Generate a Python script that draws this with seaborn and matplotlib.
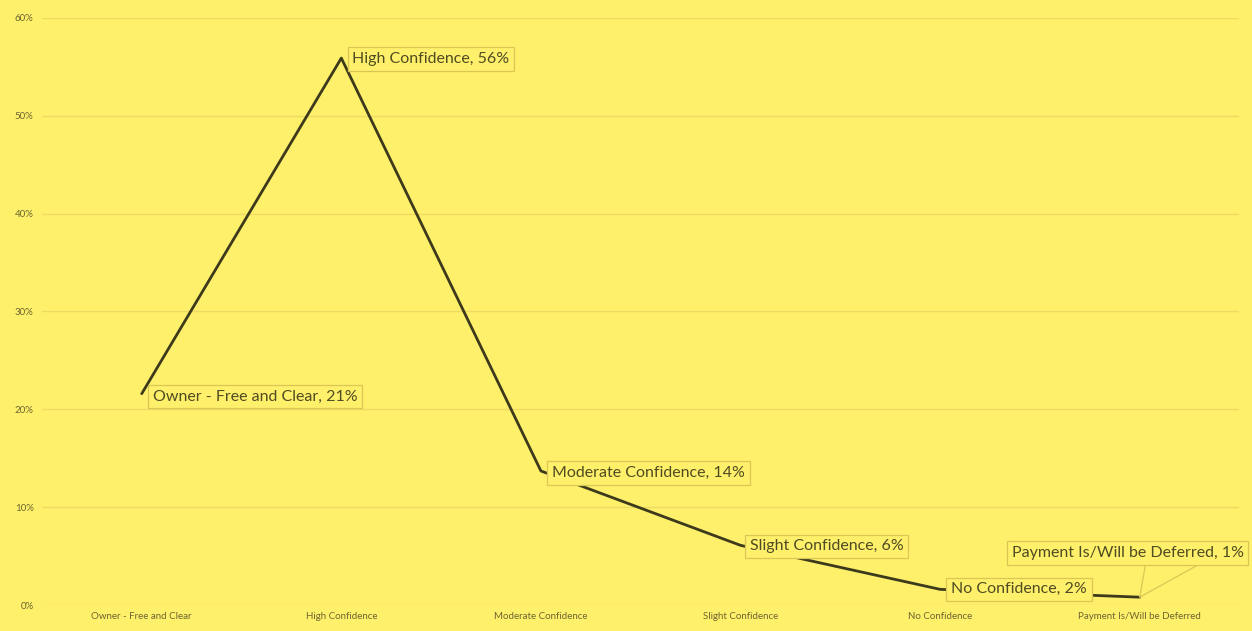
import matplotlib
matplotlib.use("Agg")
import matplotlib.pyplot as plt
import seaborn as sns
import pandas as pd

categories = ["Owner - Free and Clear", "High Confidence", "Moderate Confidence",
              "Slight Confidence", "No Confidence", "Payment Is/Will be Deferred"]
values = [21.6, 55.9, 13.7, 6.1, 1.6, 0.8]
pct_labels = ["21%", "56%", "14%", "6%", "2%", "1%"]
yticks = [0, 10, 20, 30, 40, 50, 60]

bg = "#fff06b"
line_col = "#3d3a1c"
text_col = "#4f4b22"

sns.set_theme(style="white")
plt.rcParams["font.family"] = ["Lato", "DejaVu Sans"]

df = pd.DataFrame({"cat": categories, "val": values})

fig = plt.figure(figsize=(12.52, 6.31), dpi=100, facecolor=bg)
ax = fig.add_axes([0.0335, 0.0412, 0.9565, 0.9303])
ax.set_facecolor(bg)

sns.lineplot(data=df, x="cat", y="val", sort=False, color=line_col, linewidth=2.0, ax=ax)

ax.set_xlim(-0.5, 5.5)
ax.set_ylim(0, 60)
ax.set_yticks(yticks)
ax.set_yticklabels([f"{t}%" for t in yticks])
ax.tick_params(axis="both", labelsize=7, colors="#6b6530", length=0, pad=6)
ax.tick_params(axis="x", pad=5)
ax.set_xlabel("")
ax.set_ylabel("")
for t in yticks:
    ax.axhline(t, color="#ebdb62", linewidth=1, zorder=0)
for s in ax.spines.values():
    s.set_visible(False)

# data labels (offset in pixels from each point)
offsets = [(11, -3), (11, -1), (11, -2), (9, -1), (11, 0)]
box = dict(boxstyle="square,pad=0.3", facecolor=bg, edgecolor="#d8c755", linewidth=0.9)
for i, (dx, dy) in enumerate(offsets):
    ax.annotate(f"{categories[i]}, {pct_labels[i]}", (i, values[i]),
                xytext=(dx, dy), textcoords="offset pixels", ha="left", va="center",
                fontsize=11.5, color=text_col, bbox=box, zorder=5)

# last label sits above with leader lines
lab = f"{categories[5]}, {pct_labels[5]}"
ax.annotate(lab, (5, values[5]), xytext=(-12, 44), textcoords="offset pixels",
            ha="center", va="center", fontsize=11.5, color=text_col, bbox=box, zorder=5,
            arrowprops=dict(arrowstyle="-", color="#d8c755", lw=0.9, relpos=(0.58, 0),
                            shrinkA=0, shrinkB=0))
ax.annotate(lab, (5, values[5]), xytext=(-12, 44), textcoords="offset pixels",
            ha="center", va="center", fontsize=11.5, color="none", zorder=4,
            bbox=dict(boxstyle="square,pad=0.3", facecolor="none", edgecolor="none"),
            arrowprops=dict(arrowstyle="-", color="#d8c755", lw=0.9, relpos=(0.84, 0),
                            shrinkA=0, shrinkB=0))

fig.savefig("out.png", dpi=100, facecolor=bg)
